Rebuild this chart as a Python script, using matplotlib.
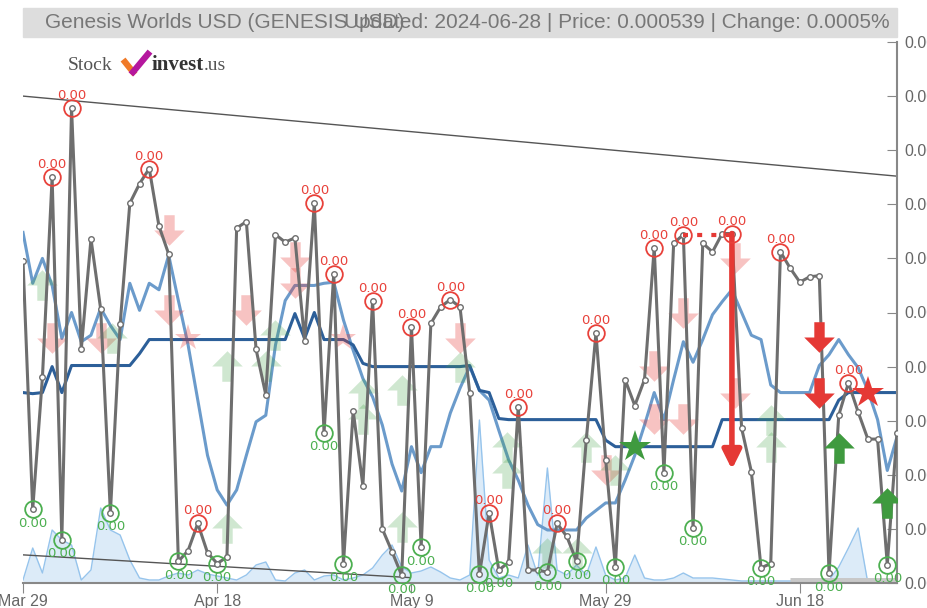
import numpy as np
import matplotlib.pyplot as plt
from matplotlib.path import Path
from matplotlib.patches import Rectangle
from matplotlib.lines import Line2D
from matplotlib.ticker import FuncFormatter

plt.rcParams['font.family'] = ['Liberation Sans', 'DejaVu Sans']

# prices in millionths of USD (0.000539 -> 539)
price = [698, 468, 590, 775, 440, 839, 616, 718, 653, 465,
         639, 751, 769, 783, 730, 704, 420, 430, 455, 428,
         418, 424, 728, 734, 616, 574, 722, 715, 719, 624,
         751, 539, 686, 418, 559, 490, 661, 450, 429, 407,
         637, 433, 640, 655, 662, 655, 576, 408, 465, 412,
         419, 563, 412, 412, 410, 455, 443, 420, 532, 631,
         514, 415, 588, 564, 588, 710, 502, 714, 722, 451,
         714, 706, 723, 723, 543, 503, 414, 418, 706, 691,
         678, 683, 684, 409, 555, 585, 558, 533, 533, 417, 539]

ma_fast = [724, 677, 700, 675, 626, 650, 623, 629, 654, 638,
           625, 677, 652, 677, 671, 703, 661, 620, 569, 518,
           486, 472, 486, 518, 549, 555, 620, 661, 675, 675,
           675, 677, 678, 643, 615, 589, 572, 546, 510, 485,
           526, 502, 526, 526, 557, 580, 600, 578, 569, 541,
           514, 495, 472, 454, 449, 449, 449, 449, 460, 467,
           474, 474, 495, 518, 546, 576, 551, 588, 623, 604,
           625, 648, 660, 671, 650, 629, 625, 583, 576, 576,
           576, 576, 601, 611, 625, 611, 599, 578, 551, 504, 535]

ma_slow = [576, 575, 576, 600, 576, 601, 601, 601, 601, 601,
           601, 601, 612, 625, 625, 625, 625, 625, 625, 625,
           625, 625, 625, 625, 625, 625, 625, 625, 649, 626,
           650, 625, 625, 625, 620, 603, 600, 600, 600, 600,
           600, 600, 600, 600, 600, 600, 601, 578, 576, 552,
           551, 551, 551, 551, 551, 551, 551, 551, 551, 551,
           532, 526, 526, 526, 526, 526, 526, 526, 526, 526,
           526, 526, 551, 551, 551, 551, 551, 551, 551, 551,
           551, 551, 551, 551, 569, 576, 576, 576, 576, 576, 576]

volume = [3, 35, 10, 53, 43, 38, 3, 13, 75, 53,
          48, 23, 5, 3, 3, 7, 10, 8, 13, 9,
          7, 5, 3, 8, 18, 21, 3, 2, 10, 13,
          3, 7, 8, 3, 5, 8, 15, 28, 38, 16,
          10, 12, 16, 11, 5, 3, 8, 163, 23, 5,
          8, 5, 38, 8, 115, 13, 8, 18, 8, 36,
          8, 3, 5, 28, 5, 3, 3, 5, 10, 5,
          5, 5, 4, 3, 2, 2, 2, 2, 2, 2,
          2, 2, 2, 3, 16, 35, 55, 0, 0, 0, 0]

high_idx = [3, 5, 13, 18, 30, 32, 36, 40, 44, 48, 51, 55, 59, 65, 68, 73, 78, 85]
low_idx = [1, 4, 9, 16, 20, 31, 33, 39, 41, 47, 49, 54, 57, 61, 66, 69, 76, 83, 89]

tick_pos = [0, 20, 40, 60, 80]
tick_labels = ['Mar 29', 'Apr 18', 'May 9', 'May 29', 'Jun 18']

# signal markers (index, price)
sell_faded_x = [3, 8, 15, 15, 23, 28, 28, 45, 60, 65, 65, 68, 68, 73.3, 73.3]
sell_faded_y = [626, 626, 726, 652, 652, 701, 677, 626, 504, 601, 552, 650, 552, 700, 576]
buy_faded_x = [2, 9.2, 21, 21, 25, 26, 35, 35, 39, 39, 45, 49.8, 49.8, 54, 57, 58, 61, 77, 77]
buy_faded_y = [675, 626, 601, 451, 601, 629, 576, 552, 578, 452, 600, 526, 502, 428, 428, 526, 504, 551, 526]
star_faded_x = [17, 33]
star_faded_y = [626, 626]
sell_x = [82, 82]
sell_y = [627, 576]
buy_x = [84, 89]
buy_y = [525, 474]
red_star = (87, 576)
green_star = (63, 526)

upper_trend = ([0, 90], [850, 776])
lower_trend = ([0, 39.8], [426, 405])

W, H = 928, 608
fig = plt.figure(figsize=(W / 100, H / 100), dpi=100)
ax = fig.add_axes([23 / W, 1 - 583 / H, 874 / W, 541 / H])
ax2 = ax.twinx()
ax.set_zorder(ax2.get_zorder() + 1)
ax.patch.set_visible(False)

x = np.arange(len(price))

# volume
ax2.fill_between(x, volume, 0, color='#d9e9f8', alpha=0.9, lw=0)
ax2.plot(x, volume, color='#96c4ec', lw=1)
ax2.set_ylim(0, 541)
ax2.set_yticks([])
for s in ax2.spines.values():
    s.set_visible(False)

# trend lines
ax.plot(*upper_trend, color='#555555', lw=1)
ax.plot(*lower_trend, color='#555555', lw=1)
ax.plot([79, 90], [402, 402], color='#c8c8c8', lw=5, solid_capstyle='butt')

ax.plot(x, ma_fast, color='#6b9bcb', lw=2.2)
ax.plot(x, ma_slow, color='#2c5f99', lw=2.2)


def arrow_path(up=False):
    v = [(-0.17, 0.5), (0.17, 0.5), (0.17, 0.0), (0.5, 0.0), (0, -0.5),
         (-0.5, 0.0), (-0.17, 0.0), (-0.17, 0.5)]
    if up:
        v = [(a, -b) for a, b in v]
    return Path(v, closed=True)


down_m = arrow_path()
up_m = arrow_path(up=True)

ax.plot(sell_faded_x, sell_faded_y, ls='none', marker=down_m, ms=22,
        color='#e53935', alpha=0.3, mew=0)
ax.plot(buy_faded_x, buy_faded_y, ls='none', marker=up_m, ms=22,
        color='#43a047', alpha=0.25, mew=0)
ax.plot(star_faded_x, star_faded_y, ls='none', marker='*', ms=20,
        color='#e53935', alpha=0.3, mew=0)

# price
ax.plot(x, price, color='#6e6e6e', lw=2.2, marker='o', ms=4,
        mfc='white', mec='#6e6e6e', mew=1, zorder=5)

# dotted resistance + big drop arrow
ax.plot([68, 73], [722, 722], color='#e53935', lw=3, ls=(0, (1.2, 2.2)), zorder=6)
ax.annotate('', xy=(73, 505), xytext=(73, 723),
            arrowprops=dict(arrowstyle='-|>', color='#e53935', lw=4,
                            mutation_scale=28, shrinkA=0, shrinkB=0), zorder=7)

ax.plot(sell_x, sell_y, ls='none', marker=down_m, ms=22, color='#e53935', mew=0, zorder=7)
ax.plot(buy_x, buy_y, ls='none', marker=up_m, ms=22, color='#3f9a3f', mew=0, zorder=7)
ax.plot(*red_star, ls='none', marker='*', ms=24, color='#e53935', mew=0, zorder=7)
ax.plot(*green_star, ls='none', marker='*', ms=24, color='#3f9a3f', mew=0, zorder=7)

for i in high_idx:
    ax.plot(i, price[i], marker='o', ms=12, mfc='none', mec='#e8413a', mew=1.3, zorder=8)
    ax.annotate('0.00', (i, price[i]), xytext=(0, 9), textcoords='offset points',
                ha='center', va='center', color='#e8413a', fontsize=9.5,
                family='DejaVu Sans', zorder=8)
for i in low_idx:
    ax.plot(i, price[i], marker='o', ms=12, mfc='none', mec='#4caf50', mew=1.3, zorder=8)
    ax.annotate('0.00', (i, price[i]), xytext=(0, -10), textcoords='offset points',
                ha='center', va='center', color='#4caf50', fontsize=9.5,
                family='DejaVu Sans', zorder=8)

ax.set_xlim(0, 90)
ax.set_ylim(400, 900)
ax.set_xticks(tick_pos)
ax.set_xticklabels(tick_labels)
ax.set_yticks(np.arange(400, 901, 50))
ax.yaxis.set_major_formatter(FuncFormatter(lambda v, p: f'{v / 1e6:.2f}'))
ax.yaxis.tick_right()
ax.tick_params(axis='y', direction='in', length=7, color='#888888',
               labelcolor='#666666', labelsize=11.5, pad=5)
ax.tick_params(axis='x', direction='out', length=7, color='#888888',
               labelcolor='#666666', labelsize=11.5, pad=1)
for k in ['top', 'left']:
    ax.spines[k].set_visible(False)
ax.spines['right'].set_color('#888888')
ax.spines['bottom'].set_color('#888888')
ax.spines['right'].set_linewidth(1.5)
ax.spines['bottom'].set_linewidth(1.5)

# header
fig.patches.append(Rectangle((23 / W, 1 - 37 / H), 874 / W, 29 / H,
                             transform=fig.transFigure, color='#dddddd', zorder=0))
fig.text(45 / W, 1 - 22.5 / H, 'Genesis Worlds USD (GENESIS USD)', ha='left', va='center',
         color='#777777', fontsize=15)
fig.text(890 / W, 1 - 22.5 / H, 'Updated: 2024-06-28 | Price: 0.000539 | Change: 0.0005%',
         ha='right', va='center', color='#777777', fontsize=15)

# logo
fig.text(68 / W, 1 - 65 / H, 'Stock', ha='left', va='center', color='#555555',
         fontsize=14, family='Liberation Serif')
fig.lines.append(Line2D([125 / W, 133 / W], [1 - 62 / H, 1 - 72 / H],
                        transform=fig.transFigure, color='#f07a28', lw=4.5))
fig.lines.append(Line2D([133 / W, 148 / W], [1 - 72 / H, 1 - 54 / H],
                        transform=fig.transFigure, color='#b5179e', lw=4.5))
t_inv = fig.text(152 / W, 1 - 65 / H, 'invest', ha='left', va='center', color='#333333',
                 fontsize=15, family='Liberation Serif', weight='bold')
r = fig.canvas.get_renderer()
bb = t_inv.get_window_extent(renderer=r)
fig.text(bb.x1 / W, 1 - 65 / H, '.us', ha='left', va='center', color='#555555',
         fontsize=14, family='Liberation Serif')

fig.savefig('out.png', dpi=100)
